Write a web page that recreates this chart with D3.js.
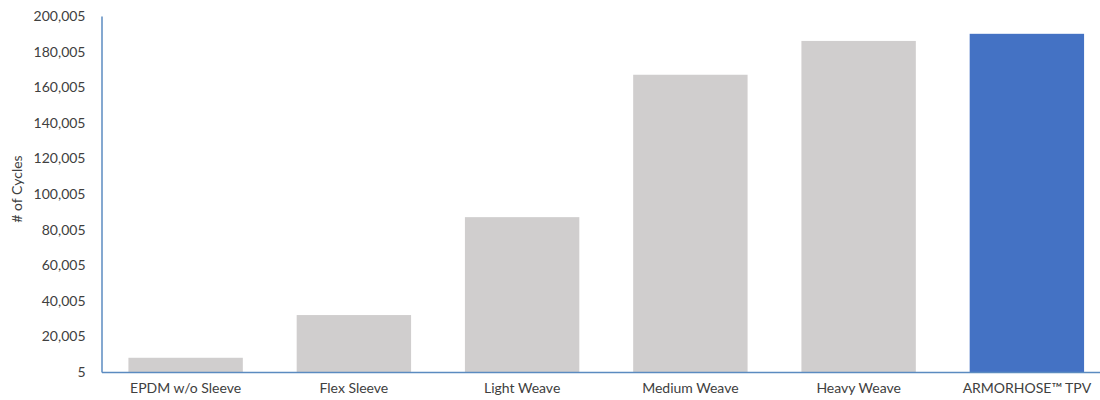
<!DOCTYPE html>
<html>
<head>
<meta charset="utf-8">
<script src="https://cdn.jsdelivr.net/npm/d3@7"></script>
<style>
  body { margin: 0; background: #fff; }
  svg { display: block; }
  svg text { font-family: Lato, sans-serif; }
</style>
</head>
<body>
<script>
// chart values
const categories = ["EPDM w/o Sleeve", "Flex Sleeve", "Light Weave", "Medium Weave", "Heavy Weave", "ARMORHOSE\u2122 TPV"];
const cycles = [8000, 32000, 87000, 167000, 186000, 190000];
const barColors = ["#d0cece", "#d0cece", "#d0cece", "#d0cece", "#d0cece", "#4472c4"];
const yTicks = [5, 20005, 40005, 60005, 80005, 100005, 120005, 140005, 160005, 180005, 200005];

const width = 1100;
const height = 400;

const svg = d3.select("body").append("svg")
    .attr("width", width)
    .attr("height", height);

const x = d3.scaleBand()
    .domain(categories)
    .range([101.5, 1111])
    .paddingInner(0.32)
    .paddingOuter(0.16);

const y = d3.scaleLinear()
    .domain([5, 200005])
    .range([372, 16]);

// bars
svg.append("g")
  .selectAll("rect")
  .data(categories)
  .join("rect")
    .attr("x", d => x(d))
    .attr("width", x.bandwidth())
    .attr("y", (d, i) => y(cycles[i]))
    .attr("height", (d, i) => y(5) - y(cycles[i]))
    .attr("fill", (d, i) => barColors[i]);

// y axis
const yAxis = svg.append("g")
    .attr("transform", "translate(101.5,0)")
    .call(d3.axisLeft(y).tickValues(yTicks).tickSize(0).tickPadding(16).tickFormat(d3.format(",")));
yAxis.select(".domain").attr("stroke", "#5b8bc0").attr("stroke-width", 1.5);
yAxis.selectAll("text").attr("fill", "#404040").style("font-size", "14px");

// x axis
const xAxis = svg.append("g")
    .attr("transform", "translate(0,372)")
    .call(d3.axisBottom(x).tickSize(0).tickPadding(11));
xAxis.select(".domain").attr("stroke", "#5b8bc0").attr("stroke-width", 1.5);
xAxis.selectAll("text").attr("fill", "#404040").style("font-size", "14px");

// axis title
svg.append("text")
    .attr("transform", "translate(22,189) rotate(-90)")
    .attr("text-anchor", "middle")
    .attr("fill", "#404040")
    .style("font-size", "14px")
    .text("# of Cycles");
</script>
</body>
</html>
